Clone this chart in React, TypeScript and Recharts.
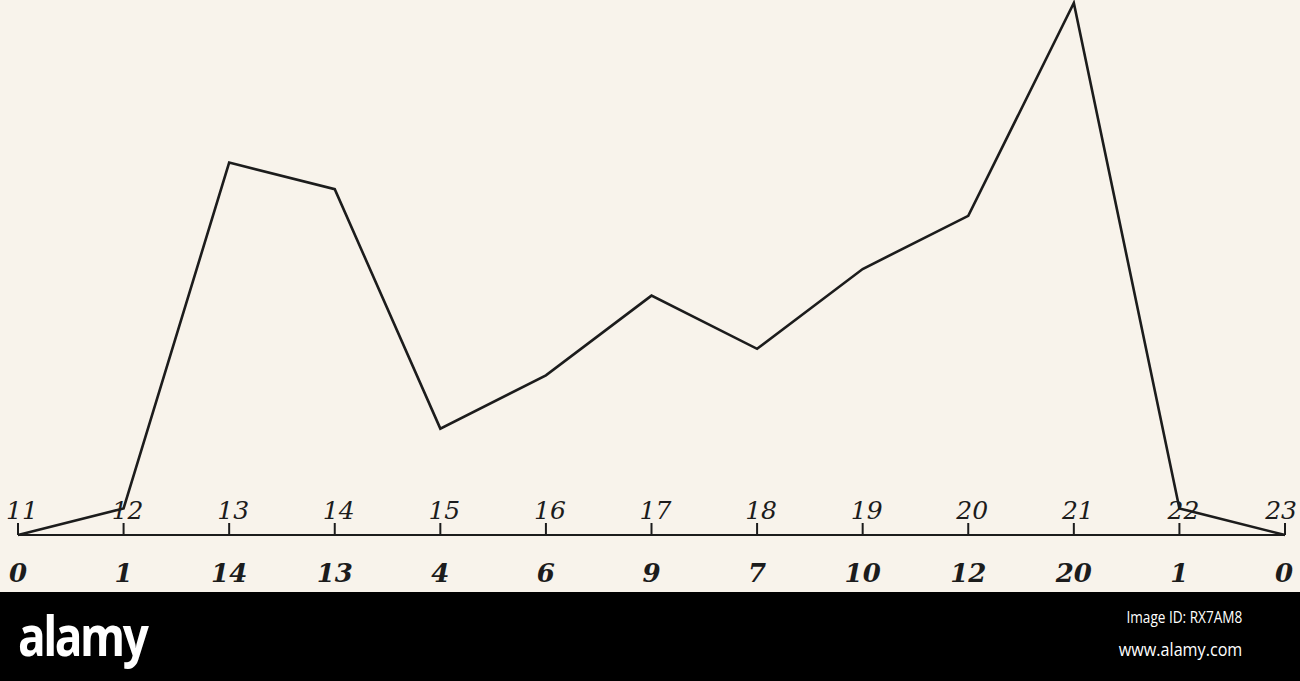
import React from 'react'
import { CartesianGrid, Line, LineChart, XAxis, YAxis } from 'recharts'

// hour labels above the axis, counts below it
const hours = ['11', '12', '13', '14', '15', '16', '17', '18', '19', '20', '21', '22', '23']
const counts = [0, 1, 14, 13, 4, 6, 9, 7, 10, 12, 20, 1, 0]

const data = hours.map((h, i) => ({ hour: h, count: counts[i] }))

const BG = '#f8f3eb'
const INK = '#1c1c1c'

const HourTick = (props: any) => {
  const { x, y, index } = props
  const last = index === hours.length - 1
  return (
    <g>
      <line x1={x} y1={y} x2={x} y2={y - 12} stroke={INK} strokeWidth={2} />
      <text
        x={last ? x + 12 : x + 4}
        y={y - 16}
        textAnchor={last ? 'end' : 'middle'}
        fill={INK}
        style={{ fontFamily: '"DejaVu Serif", serif', fontStyle: 'italic', fontSize: 25 }}
      >
        {hours[index]}
      </text>
      <text
        x={last ? x + 8 : x}
        y={y + 47}
        textAnchor={last ? 'end' : 'middle'}
        fill={INK}
        style={{ fontFamily: '"DejaVu Serif", serif', fontStyle: 'italic', fontWeight: 'bold', fontSize: 26 }}
      >
        {counts[index]}
      </text>
    </g>
  )
}

export default function App() {
  return (
    <div style={{ position: 'absolute', left: 0, top: 0, width: 1300, height: 681, background: BG }}>
      <LineChart width={1300} height={592} data={data} margin={{ top: 3, right: 15, left: 18, bottom: 0 }}>
        <CartesianGrid stroke="none" />
        <YAxis hide domain={[0, 20]} />
        <XAxis
          dataKey="hour"
          axisLine={{ stroke: INK, strokeWidth: 2 }}
          tickLine={false}
          tickSize={0}
          tickMargin={0}
          interval={0}
          height={57}
          tick={<HourTick />}
        />
        <Line
          type="linear"
          dataKey="count"
          stroke={INK}
          strokeWidth={2.6}
          dot={false}
          isAnimationActive={false}
        />
      </LineChart>
      <div
        style={{
          position: 'absolute',
          left: 0,
          top: 592,
          width: 1300,
          height: 89,
          background: '#000',
          color: '#fff',
          fontFamily: '"Open Sans", sans-serif',
        }}
      >
        <div
          style={{
            position: 'absolute',
            left: 18,
            top: 4,
            fontSize: 56,
            fontWeight: 'bold',
            letterSpacing: -3,
            transform: 'scaleX(0.82)',
            transformOrigin: 'left',
          }}
        >
          alamy
        </div>
        <div style={{ position: 'absolute', right: 58, top: 14, fontSize: 16, transform: 'scaleX(0.85)', transformOrigin: 'right' }}>
          Image ID: RX7AM8
        </div>
        <div style={{ position: 'absolute', right: 58, top: 44, fontSize: 19, transform: 'scaleX(0.85)', transformOrigin: 'right' }}>
          www.alamy.com
        </div>
      </div>
    </div>
  )
}
